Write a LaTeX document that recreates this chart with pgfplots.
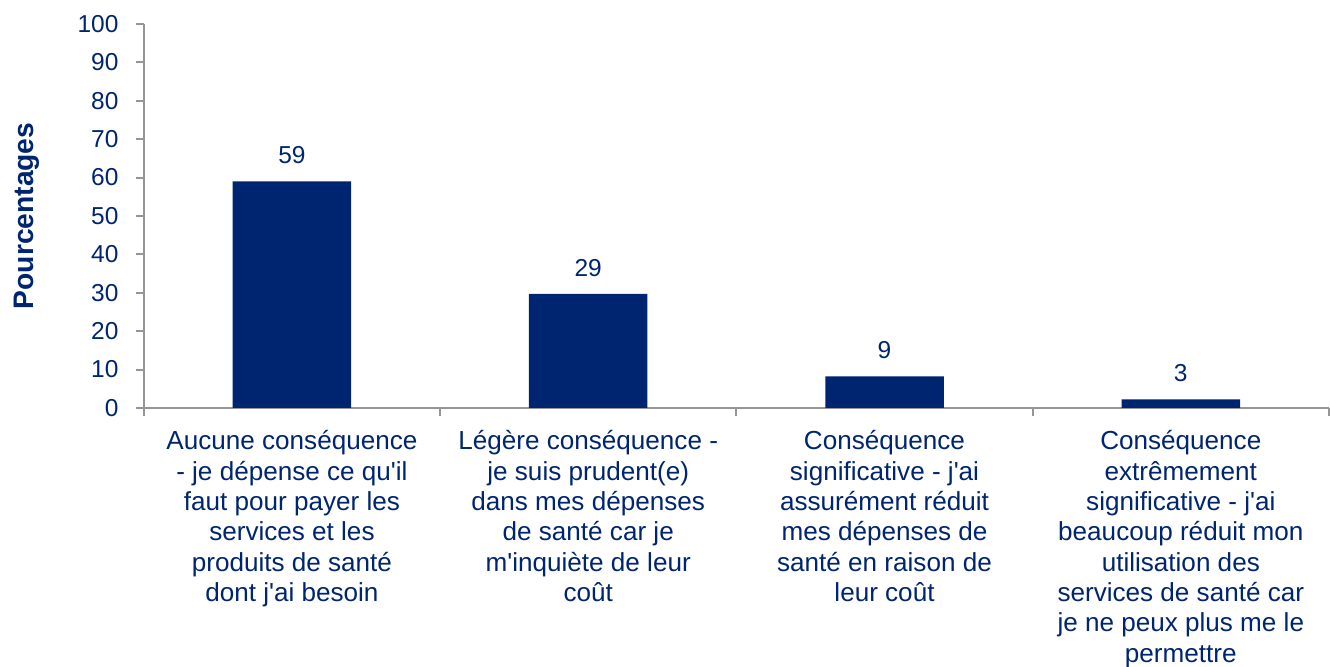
\documentclass[border=0pt]{standalone}
\usepackage{fontspec}
\setmainfont{Liberation Sans}
\usepackage{pgfplots}
\usepackage{pgfplotstable}
\pgfplotsset{compat=1.18}
\usetikzlibrary{calc}
\definecolor{navy}{RGB}{0,37,112}
\definecolor{axgray}{RGB}{150,150,150}

\pgfplotstableread{
x y lab
0 59.0 59
1 29.7 29
2 8.2 9
3 2.2 3
}\data

\newcommand{\num}{\fontsize{9.2}{10.5}\selectfont}
\newcommand{\cat}{\fontsize{9.8}{11.4}\selectfont}
\newcommand{\q}{\textquotesingle}

\begin{document}
\begin{tikzpicture}
\begin{axis}[name=ax, scale only axis, width=445.1pt, height=144.2pt,
  xmin=-0.5, xmax=3.5, ymin=0, ymax=100, ytick={0,10,...,100},
  axis lines*=left, axis line style={axgray, line width=0.75pt},
  tick style={axgray, line width=0.75pt}, tick align=outside, major tick length=3pt,
  ytick pos=left, xtick pos=bottom,
  xtick={-0.5,0.5,1.5,2.5,3.5}, x tick label as interval,
  xticklabels={{Aucune conséquence\\- je dépense ce qu\q il\\faut pour payer les\\services et les\\produits de santé\\dont j\q ai besoin},
    {Légère conséquence -\\je suis prudent(e)\\dans mes dépenses\\de santé car je\\m\q inquiète de leur\\coût},
    {Conséquence\\significative - j\q ai\\assurément réduit\\mes dépenses de\\santé en raison de\\leur coût},
    {Conséquence\\extrêmement\\significative - j\q ai\\beaucoup réduit mon\\utilisation des\\services de santé car\\je ne peux plus me le\\permettre}},
  xticklabel style={align=center, font=\cat, text=navy, anchor=north, yshift=-2pt},
  yticklabel style={font=\num, text=navy, xshift=-3pt},
  /pgf/number format/assume math mode=true,
  ylabel={Pourcentages},
  ylabel style={font=\fontsize{10.6}{12}\selectfont\bfseries, text=navy, at={(axis description cs:-0.099,0.5)}, anchor=center},
  ybar, bar width=0.4,
  nodes near coords, point meta=explicit symbolic,
  every node near coord/.append style={font=\num, text=navy, yshift=3pt},
]
\addplot[fill=navy, draw=none] table[x=x, y=y, meta=lab]{\data};
\end{axis}
\pgfresetboundingbox
\path[use as bounding box] ($(ax.south west)+(-54pt,-97.3pt)$) rectangle ($(ax.north east)+(0.4pt,9pt)$);
\end{tikzpicture}
\end{document}
